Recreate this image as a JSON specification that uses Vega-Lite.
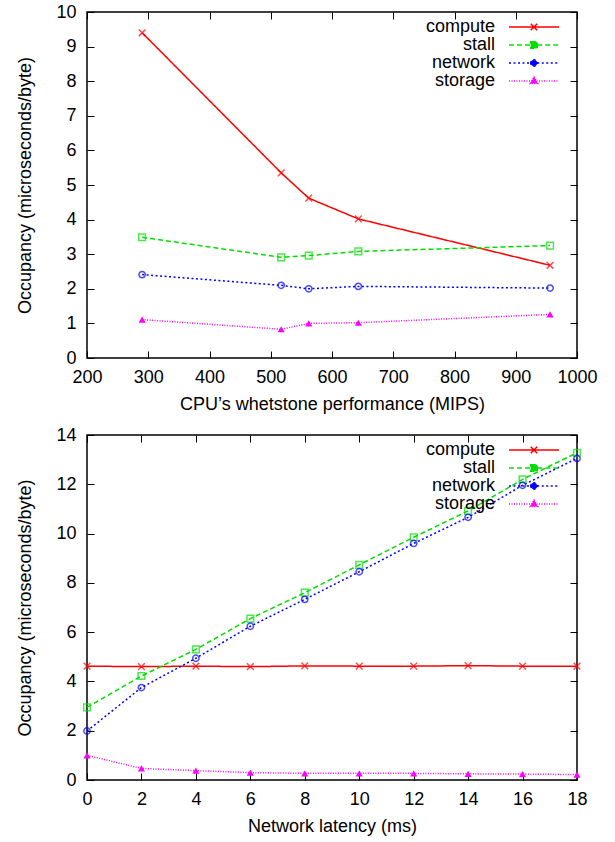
{
  "$schema": "https://vega.github.io/schema/vega-lite/v6.json",
  "padding": {"left": 16, "top": 2, "right": 10, "bottom": 5},
  "spacing": 11,
  "config": {
    "font": "Liberation Sans",
    "view": {"stroke": "#000", "strokeWidth": 1.5},
    "axis": {"labelFont": "Liberation Sans", "labelFontSize": 18, "titleFont": "Liberation Sans", "titleFontSize": 18, "titleFontWeight": "normal", "labelColor": "#000", "titleColor": "#000", "tickColor": "#000", "tickWidth": 1, "domain": false, "grid": false, "tickSize": -7, "format": "d", "labelFlush": false, "labelOverlap": false},
    "axisX": {"labelPadding": 17, "titlePadding": 9},
    "axisY": {"labelPadding": 18, "titlePadding": 21},
    "legend": {"labelFont": "Liberation Sans", "labelFontSize": 18, "labelColor": "#000"}
  },
  "datasets": {
    "top": [
      {"x": 290, "series": "compute", "y": 9.4},
      {"x": 517, "series": "compute", "y": 5.35},
      {"x": 562, "series": "compute", "y": 4.62},
      {"x": 643, "series": "compute", "y": 4.02},
      {"x": 956, "series": "compute", "y": 2.68},
      {"x": 290, "series": "stall", "y": 3.49},
      {"x": 517, "series": "stall", "y": 2.91},
      {"x": 562, "series": "stall", "y": 2.96},
      {"x": 643, "series": "stall", "y": 3.08},
      {"x": 956, "series": "stall", "y": 3.25},
      {"x": 290, "series": "network", "y": 2.41},
      {"x": 517, "series": "network", "y": 2.1},
      {"x": 562, "series": "network", "y": 2.0},
      {"x": 643, "series": "network", "y": 2.07},
      {"x": 956, "series": "network", "y": 2.02},
      {"x": 290, "series": "storage", "y": 1.11},
      {"x": 517, "series": "storage", "y": 0.83},
      {"x": 562, "series": "storage", "y": 1.0},
      {"x": 643, "series": "storage", "y": 1.02},
      {"x": 956, "series": "storage", "y": 1.26}
    ],
    "bottom": [
      {"x": 0, "series": "compute", "y": 4.62},
      {"x": 2, "series": "compute", "y": 4.6},
      {"x": 4, "series": "compute", "y": 4.62},
      {"x": 6, "series": "compute", "y": 4.6},
      {"x": 8, "series": "compute", "y": 4.63},
      {"x": 10, "series": "compute", "y": 4.62},
      {"x": 12, "series": "compute", "y": 4.62},
      {"x": 14, "series": "compute", "y": 4.64},
      {"x": 16, "series": "compute", "y": 4.62},
      {"x": 18, "series": "compute", "y": 4.62},
      {"x": 0, "series": "stall", "y": 2.95},
      {"x": 2, "series": "stall", "y": 4.22},
      {"x": 4, "series": "stall", "y": 5.3},
      {"x": 6, "series": "stall", "y": 6.55},
      {"x": 8, "series": "stall", "y": 7.6},
      {"x": 10, "series": "stall", "y": 8.73},
      {"x": 12, "series": "stall", "y": 9.85},
      {"x": 14, "series": "stall", "y": 10.92},
      {"x": 16, "series": "stall", "y": 12.2},
      {"x": 18, "series": "stall", "y": 13.28},
      {"x": 0, "series": "network", "y": 1.99},
      {"x": 2, "series": "network", "y": 3.75},
      {"x": 4, "series": "network", "y": 4.94},
      {"x": 6, "series": "network", "y": 6.24},
      {"x": 8, "series": "network", "y": 7.33},
      {"x": 10, "series": "network", "y": 8.45},
      {"x": 12, "series": "network", "y": 9.6},
      {"x": 14, "series": "network", "y": 10.66},
      {"x": 16, "series": "network", "y": 11.96},
      {"x": 18, "series": "network", "y": 13.05},
      {"x": 0, "series": "storage", "y": 1.0},
      {"x": 2, "series": "storage", "y": 0.47},
      {"x": 4, "series": "storage", "y": 0.38},
      {"x": 6, "series": "storage", "y": 0.3},
      {"x": 8, "series": "storage", "y": 0.27},
      {"x": 10, "series": "storage", "y": 0.27},
      {"x": 12, "series": "storage", "y": 0.27},
      {"x": 14, "series": "storage", "y": 0.25},
      {"x": 16, "series": "storage", "y": 0.24},
      {"x": 18, "series": "storage", "y": 0.22}
    ]
  },
  "resolve": {
    "scale": {"color": "independent", "strokeDash": "independent"},
    "legend": {"color": "independent", "strokeDash": "independent"}
  },
  "vconcat": [
    {
      "width": 490,
      "height": 346,
      "data": {"name": "top"},
      "layer": [
        {
          "mark": {"type": "line", "strokeWidth": 1.5},
          "encoding": {
            "x": {"field": "x", "type": "quantitative", "scale": {"domain": [200, 1000], "nice": false}, "axis": {"orient": "bottom", "values": [200, 300, 400, 500, 600, 700, 800, 900, 1000], "title": "CPU’s whetstone performance (MIPS)"}},
            "y": {"field": "y", "type": "quantitative", "scale": {"domain": [0, 10], "nice": false}, "axis": {"orient": "left", "values": [0, 1, 2, 3, 4, 5, 6, 7, 8, 9, 10], "title": "Occupancy (microseconds/byte)"}},
            "color": {"field": "series", "type": "nominal", "scale": {"domain": ["compute", "stall", "network", "storage"], "range": ["#ff0000", "#00e000", "#0000ff", "#ff00ff"]}, "legend": {"orient": "none", "legendX": 438, "legendY": 6, "title": null, "padding": 0, "rowPadding": 0, "symbolSize": 100, "symbolStrokeWidth": 1.5, "labelAlign": "right", "labelOffset": -48, "encode": {"symbols": {"update": {"shape": {"signal": "datum.value === 'compute' ? 'M-5,0H5M-0.65,-0.65L0.65,0.65M-0.65,0.65L0.65,-0.65' : datum.value === 'stall' ? 'M-5,0H-0.65M0.65,0H5M-0.65,-0.65H0.65V0.65H-0.65Z' : datum.value === 'network' ? 'M-5,0H-0.65M0.65,0H5M-0.65,0A0.65,0.65,0,1,0,0.65,0A0.65,0.65,0,1,0,-0.65,0' : 'M-5,0H5M0,-0.8L0.75,0.5H-0.75Z'"}, "fill": {"signal": "datum.value === 'storage' ? '#ff00ff' : 'transparent'"}, "strokeDash": {"signal": "datum.value === 'compute' ? [1,0] : datum.value === 'stall' ? [5,3] : datum.value === 'network' ? [2,2.5] : [1,1.5]"}, "opacity": {"value": 1}}}}}},
            "strokeDash": {"field": "series", "type": "nominal", "scale": {"domain": ["compute", "stall", "network", "storage"], "range": [[1, 0], [5, 3], [2, 2.5], [1, 1.5]]}, "legend": null}
          }
        },
        {
          "transform": [{"filter": "datum.series === 'compute'"}],
          "mark": {"type": "point", "filled": false, "strokeWidth": 1.5, "size": 45, "shape": "M-1,-1L1,1M-1,1L1,-1"},
          "encoding": {
            "x": {"field": "x", "type": "quantitative", "axis": {"orient": "top", "values": [200, 300, 400, 500, 600, 700, 800, 900, 1000], "labels": false, "title": null}},
            "y": {"field": "y", "type": "quantitative", "axis": {"orient": "right", "values": [0, 1, 2, 3, 4, 5, 6, 7, 8, 9, 10], "labels": false, "title": null}},
            "color": {"field": "series", "type": "nominal", "legend": null}
          }
        },
        {
          "transform": [{"filter": "datum.series === 'stall'"}],
          "mark": {"type": "point", "filled": false, "strokeWidth": 1.5, "size": 45, "shape": "square"},
          "encoding": {
            "x": {"field": "x", "type": "quantitative", "axis": null},
            "y": {"field": "y", "type": "quantitative", "axis": null},
            "color": {"field": "series", "type": "nominal", "legend": null}
          }
        },
        {
          "transform": [{"filter": "datum.series === 'network'"}],
          "mark": {"type": "point", "filled": false, "strokeWidth": 1.5, "size": 40, "shape": "circle"},
          "encoding": {
            "x": {"field": "x", "type": "quantitative", "axis": null},
            "y": {"field": "y", "type": "quantitative", "axis": null},
            "color": {"field": "series", "type": "nominal", "legend": null}
          }
        },
        {
          "transform": [{"filter": "datum.series === 'storage'"}],
          "mark": {"type": "point", "filled": true, "shape": "triangle-up", "size": 50, "opacity": 1},
          "encoding": {
            "x": {"field": "x", "type": "quantitative", "axis": null},
            "y": {"field": "y", "type": "quantitative", "axis": null},
            "color": {"field": "series", "type": "nominal", "legend": null}
          }
        }
      ],
      "resolve": {"axis": {"x": "independent", "y": "independent"}}
    },
    {
      "width": 490,
      "height": 345,
      "data": {"name": "bottom"},
      "layer": [
        {
          "mark": {"type": "line", "strokeWidth": 1.5},
          "encoding": {
            "x": {"field": "x", "type": "quantitative", "scale": {"domain": [0, 18], "nice": false}, "axis": {"orient": "bottom", "values": [0, 2, 4, 6, 8, 10, 12, 14, 16, 18], "title": "Network latency (ms)"}},
            "y": {"field": "y", "type": "quantitative", "scale": {"domain": [0, 14], "nice": false}, "axis": {"orient": "left", "values": [0, 2, 4, 6, 8, 10, 12, 14], "title": "Occupancy (microseconds/byte)"}},
            "color": {"field": "series", "type": "nominal", "scale": {"domain": ["compute", "stall", "network", "storage"], "range": ["#ff0000", "#00e000", "#0000ff", "#ff00ff"]}, "legend": {"orient": "none", "legendX": 438, "legendY": 6, "title": null, "padding": 0, "rowPadding": 0, "symbolSize": 100, "symbolStrokeWidth": 1.5, "labelAlign": "right", "labelOffset": -48, "encode": {"symbols": {"update": {"shape": {"signal": "datum.value === 'compute' ? 'M-5,0H5M-0.65,-0.65L0.65,0.65M-0.65,0.65L0.65,-0.65' : datum.value === 'stall' ? 'M-5,0H-0.65M0.65,0H5M-0.65,-0.65H0.65V0.65H-0.65Z' : datum.value === 'network' ? 'M-5,0H-0.65M0.65,0H5M-0.65,0A0.65,0.65,0,1,0,0.65,0A0.65,0.65,0,1,0,-0.65,0' : 'M-5,0H5M0,-0.8L0.75,0.5H-0.75Z'"}, "fill": {"signal": "datum.value === 'storage' ? '#ff00ff' : 'transparent'"}, "strokeDash": {"signal": "datum.value === 'compute' ? [1,0] : datum.value === 'stall' ? [5,3] : datum.value === 'network' ? [2,2.5] : [1,1.5]"}, "opacity": {"value": 1}}}}}},
            "strokeDash": {"field": "series", "type": "nominal", "scale": {"domain": ["compute", "stall", "network", "storage"], "range": [[1, 0], [5, 3], [2, 2.5], [1, 1.5]]}, "legend": null}
          }
        },
        {
          "transform": [{"filter": "datum.series === 'compute'"}],
          "mark": {"type": "point", "filled": false, "strokeWidth": 1.5, "size": 45, "shape": "M-1,-1L1,1M-1,1L1,-1"},
          "encoding": {
            "x": {"field": "x", "type": "quantitative", "axis": {"orient": "top", "values": [0, 2, 4, 6, 8, 10, 12, 14, 16, 18], "labels": false, "title": null}},
            "y": {"field": "y", "type": "quantitative", "axis": {"orient": "right", "values": [0, 2, 4, 6, 8, 10, 12, 14], "labels": false, "title": null}},
            "color": {"field": "series", "type": "nominal", "legend": null}
          }
        },
        {
          "transform": [{"filter": "datum.series === 'stall'"}],
          "mark": {"type": "point", "filled": false, "strokeWidth": 1.5, "size": 45, "shape": "square"},
          "encoding": {
            "x": {"field": "x", "type": "quantitative", "axis": null},
            "y": {"field": "y", "type": "quantitative", "axis": null},
            "color": {"field": "series", "type": "nominal", "legend": null}
          }
        },
        {
          "transform": [{"filter": "datum.series === 'network'"}],
          "mark": {"type": "point", "filled": false, "strokeWidth": 1.5, "size": 40, "shape": "circle"},
          "encoding": {
            "x": {"field": "x", "type": "quantitative", "axis": null},
            "y": {"field": "y", "type": "quantitative", "axis": null},
            "color": {"field": "series", "type": "nominal", "legend": null}
          }
        },
        {
          "transform": [{"filter": "datum.series === 'storage'"}],
          "mark": {"type": "point", "filled": true, "shape": "triangle-up", "size": 50, "opacity": 1},
          "encoding": {
            "x": {"field": "x", "type": "quantitative", "axis": null},
            "y": {"field": "y", "type": "quantitative", "axis": null},
            "color": {"field": "series", "type": "nominal", "legend": null}
          }
        }
      ],
      "resolve": {"axis": {"x": "independent", "y": "independent"}}
    }
  ]
}
